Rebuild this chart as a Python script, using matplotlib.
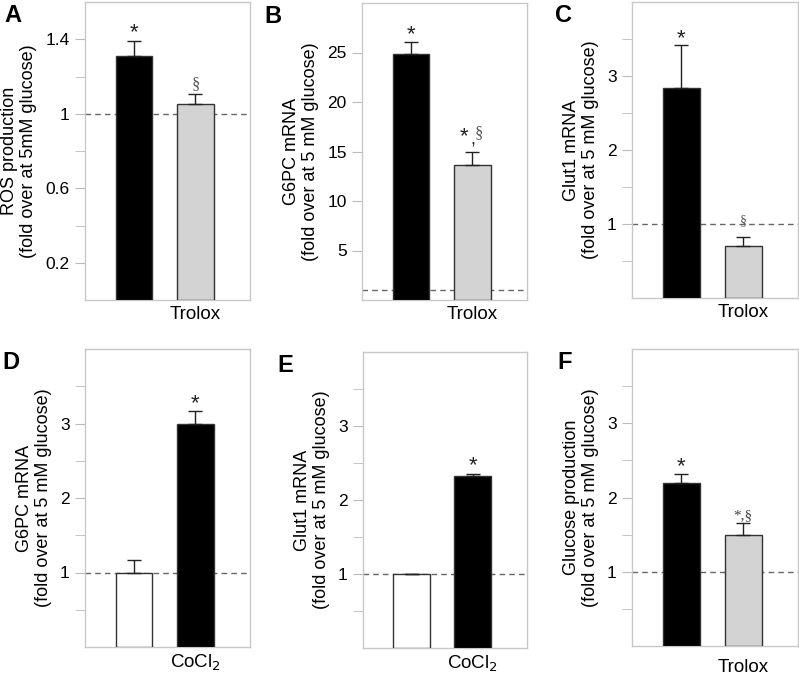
import matplotlib
matplotlib.use("Agg")
import matplotlib.pyplot as plt

plt.rcParams['font.family'] = ['Liberation Sans', 'DejaVu Sans']

# panel data: bar heights, upper errors, fills
a_vals = [1.31, 1.054]
a_err = [0.08, 0.054]
b_vals = [24.8, 13.6]
b_err = [1.25, 1.4]
c_vals = [2.84, 0.70]
c_err = [0.58, 0.13]
d_vals = [1.0, 2.99]
d_err = [0.17, 0.18]
e_vals = [1.0, 2.32]
e_err = [0.0, 0.03]
f_vals = [2.19, 1.49]
f_err = [0.12, 0.16]

trolox_colors = ['black', '#d3d3d3']
cocl_colors = ['white', 'black']

ylabels = {
    'A': "ROS production\n(fold over at 5mM glucose)",
    'B': "G6PC mRNA\n(fold over at 5 mM glucose)",
    'C': "Glut1 mRNA\n(fold over at 5 mM glucose)",
    'D': "G6PC mRNA\n(fold over at 5 mM glucose)",
    'E': "Glut1 mRNA\n(fold over at 5 mM glucose)",
    'F': "Glucose production\n(fold over at 5 mM glucose)",
}

fig = plt.figure(figsize=(7.99, 6.75), dpi=100)

W, H = 799, 675
def px_axes(x0, y0, x1, y1):
    return fig.add_axes([x0 / W, 1 - y1 / H, (x1 - x0) / W, (y1 - y0) / H])

# name, box(px), values, errors, colours, ylim, ticks, minor ticks, x label, letter x (px)
panels = [
    ('A', (85, 2, 250, 300), a_vals, a_err, trolox_colors, (0, 1.6), [0.2, 0.6, 1.0, 1.4], [0.4, 0.8, 1.2], 'Trolox', 4),
    ('B', (362, 3, 527, 300), b_vals, b_err, trolox_colors, (0, 30), [5, 10, 15, 20, 25], [], 'Trolox', 264),
    ('C', (632, 2, 798, 298), c_vals, c_err, trolox_colors, (0, 4), [1, 2, 3], [0.5, 1.5, 2.5, 3.5], 'Trolox', 555),
    ('D', (85, 349, 250, 647), d_vals, d_err, cocl_colors, (0, 4), [1, 2, 3], [0.5, 1.5, 2.5, 3.5], 'CoCl$_2$', 2),
    ('E', (363, 352, 527, 648), e_vals, e_err, cocl_colors, (0, 4), [1, 2, 3], [0.5, 1.5, 2.5, 3.5], 'CoCl$_2$', 277),
    ('F', (632, 349, 798, 646), f_vals, f_err, trolox_colors, (0, 4), [1, 2, 3], [0.5, 1.5, 2.5, 3.5], 'Trolox', 557),
]

axes = {}
for name, box, vals, err, cols, ylim, ticks, minors, xlab, lx in panels:
    ax = px_axes(*box)
    axes[name] = ax
    x = [1, 2]
    ax.bar(x, vals, 0.6, color=cols, edgecolor='#333333', linewidth=1.0, zorder=3)
    ax.errorbar(x, vals, yerr=[[0, 0], err], fmt='none', ecolor='#222222',
                elinewidth=1.0, capsize=5, capthick=1.0, zorder=4)
    ax.axhline(1, color='#666666', linestyle=(0, (4, 3)), linewidth=1.0, zorder=2)
    ax.set_xlim(0.2, 2.89)
    ax.set_ylim(*ylim)
    ax.set_yticks(ticks)
    ax.set_yticklabels([('%g' % t) for t in ticks], fontsize=12.5)
    ax.set_yticks(minors, minor=True)
    ax.tick_params(axis='y', which='both', direction='out', length=7, color='#bbbbbb', pad=4)
    ax.set_xticks([2])
    ax.set_xticklabels([xlab], fontsize=13.5)
    ax.tick_params(axis='x', length=0, pad=4)
    for s in ax.spines.values():
        s.set_color('#c8c8c8')
        s.set_linewidth(1.0)
    ax.set_ylabel(ylabels[name], fontsize=13, linespacing=1.15, labelpad=6)
    fig.text(lx / W, 1 - (box[1] + 2) / H, name, fontsize=17, fontweight='bold',
             va='top', ha='left')

axes['F'].xaxis.set_tick_params(pad=9)

def star(ax, x, y, **kw):
    ax.text(x, y, '*', ha='center', va='bottom', fontsize=16, color='#222222', **kw)

def sect(ax, x, y, size=11):
    ax.text(x, y, '\u00a7', ha='center', va='bottom', fontsize=size, color='#555555',
            family=['Liberation Serif', 'DejaVu Serif'])

# annotations above error bars
ax = axes['A']
star(ax, 1, a_vals[0] + a_err[0] - 0.01)
sect(ax, 2, a_vals[1] + a_err[1] + 0.01, 12)

ax = axes['B']
star(ax, 1, b_vals[0] + b_err[0] - 0.3)
top = b_vals[1] + b_err[1]
star(ax, 1.87, top + 0.4)
ax.text(2.0, top + 0.3, ',', ha='center', va='bottom', fontsize=13, color='#222222')
sect(ax, 2.11, top + 1.0, 12)

ax = axes['C']
star(ax, 1, c_vals[0] + c_err[0] - 0.06)
sect(ax, 2, c_vals[1] + c_err[1] + 0.12, 10)

ax = axes['D']
star(ax, 2, d_vals[1] + d_err[1] - 0.05)

ax = axes['E']
star(ax, 2, e_vals[1] + e_err[1] - 0.03)

ax = axes['F']
star(ax, 1, f_vals[0] + f_err[0] - 0.04)
ax.text(2, f_vals[1] + f_err[1] + 0.02, '*,\u00a7', ha='center', va='bottom', fontsize=11,
        color='#444444', family=['Liberation Serif', 'DejaVu Serif'])

fig.savefig('out.png', dpi=100)
